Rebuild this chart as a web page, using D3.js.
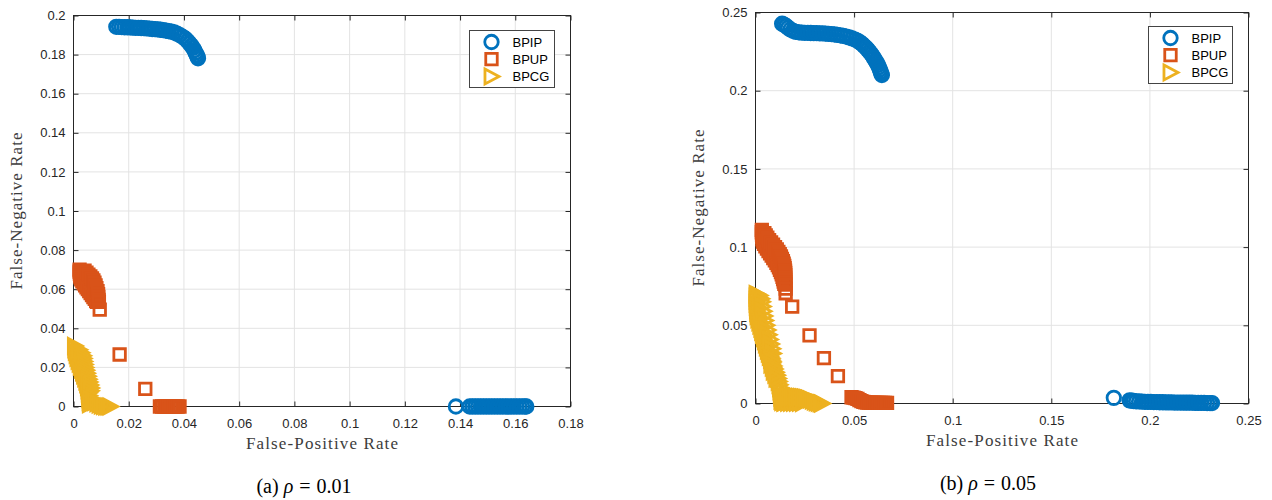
<!DOCTYPE html>
<html>
<head>
<meta charset="utf-8">
<script src="https://cdn.jsdelivr.net/npm/d3@7"></script>
<style>
  body { margin: 0; background: #fff; }
  svg { display: block; }
</style>
</head>
<body>
<svg id="chart" width="1272" height="500"></svg>
<script>
// Series names / colours (MATLAB default order)
const seriesNames = ['BPIP', 'BPUP', 'BPCG'];
const seriesColors = ['#0072BD', '#D95319', '#EDB120'];

// Tick values
const xTicksA = [0, 0.02, 0.04, 0.06, 0.08, 0.1, 0.12, 0.14, 0.16, 0.18];
const yTicksA = [0, 0.02, 0.04, 0.06, 0.08, 0.1, 0.12, 0.14, 0.16, 0.18, 0.2];
const xTicksB = [0, 0.05, 0.1, 0.15, 0.2, 0.25];
const yTicksB = [0, 0.05, 0.1, 0.15, 0.2, 0.25];

// (a) rho = 0.01  -- [false-positive rate, false-negative rate]
const bpipA = [
  [0.0155, 0.1942], [0.0165, 0.1942], [0.0175, 0.1941], [0.0185, 0.1940], [0.0195, 0.1940],
  [0.0205, 0.1939], [0.0215, 0.1938], [0.0225, 0.1937], [0.0235, 0.1937], [0.0245, 0.1936],
  [0.0255, 0.1935], [0.0265, 0.1934], [0.0275, 0.1933], [0.0285, 0.1931], [0.0295, 0.1930],
  [0.0305, 0.1929], [0.0315, 0.1927], [0.0325, 0.1925], [0.0335, 0.1923], [0.0345, 0.1920],
  [0.0355, 0.1917], [0.0365, 0.1913], [0.0375, 0.1907], [0.0385, 0.1900], [0.0395, 0.1891],
  [0.0405, 0.1881], [0.0413, 0.1870], [0.0420, 0.1858], [0.0427, 0.1846], [0.0433, 0.1834],
  [0.0438, 0.1822], [0.0442, 0.1810], [0.0446, 0.1799], [0.0449, 0.1789], [0.0451, 0.1781],
  [0.1385, 0], [0.1435, 0], [0.1445, 0], [0.1455, 0], [0.1465, 0], [0.1475, 0], [0.1485, 0],
  [0.1495, 0], [0.1505, 0], [0.1515, 0], [0.1525, 0], [0.1535, 0], [0.1545, 0], [0.1555, 0],
  [0.1565, 0], [0.1575, 0], [0.1585, 0], [0.1595, 0], [0.1605, 0], [0.1615, 0], [0.1625, 0],
  [0.1635, 0], [0.1640, 0]
];
const bpupA = [
  [0.0022, 0.0700], [0.0022, 0.0690], [0.0023, 0.0680], [0.0024, 0.0670], [0.0025, 0.0660],
  [0.0028, 0.0650], [0.0032, 0.0640], [0.0037, 0.0630], [0.0042, 0.0620], [0.0047, 0.0610],
  [0.0052, 0.0600], [0.0057, 0.0590], [0.0062, 0.0580], [0.0067, 0.0570], [0.0072, 0.0560],
  [0.0077, 0.0550], [0.0082, 0.0540], [0.0085, 0.0535],
  [0.0040, 0.0695], [0.0047, 0.0685], [0.0054, 0.0675], [0.0061, 0.0665], [0.0067, 0.0655],
  [0.0072, 0.0645], [0.0076, 0.0633], [0.0080, 0.0620], [0.0083, 0.0605], [0.0087, 0.0590],
  [0.0089, 0.0575], [0.0090, 0.0560], [0.0091, 0.0545], [0.0092, 0.0535],
  [0.0095, 0.0496], [0.0167, 0.0266], [0.0260, 0.0090],
  [0.0313, 0], [0.0321, 0], [0.0329, 0], [0.0337, 0], [0.0345, 0], [0.0353, 0],
  [0.0361, 0], [0.0369, 0], [0.0377, 0], [0.0384, 0]
];
const bpcgA = [
  [0.0005, 0.0310], [0.0006, 0.0295], [0.0008, 0.0280], [0.0011, 0.0265], [0.0014, 0.0250],
  [0.0018, 0.0235], [0.0022, 0.0220], [0.0026, 0.0205], [0.0030, 0.0190], [0.0034, 0.0175],
  [0.0038, 0.0160], [0.0042, 0.0145], [0.0046, 0.0130], [0.0049, 0.0115], [0.0052, 0.0100],
  [0.0054, 0.0085], [0.0055, 0.0070], [0.0056, 0.0055], [0.0057, 0.0040], [0.0058, 0.0025],
  [0.0059, 0.0012],
  [0.0020, 0.0290], [0.0028, 0.0275], [0.0034, 0.0260], [0.0036, 0.0245], [0.0038, 0.0230],
  [0.0040, 0.0215], [0.0042, 0.0200], [0.0045, 0.0185], [0.0048, 0.0170], [0.0051, 0.0155],
  [0.0054, 0.0140], [0.0057, 0.0125], [0.0060, 0.0110], [0.0063, 0.0095], [0.0062, 0.0080],
  [0.0062, 0.0040], [0.0070, 0.0032], [0.0078, 0.0024], [0.0086, 0.0017], [0.0094, 0.0011],
  [0.0102, 0.0006], [0.0110, 0.0003], [0.0118, 0.0001], [0.0126, 0], [0.0133, 0]
];

// (b) rho = 0.05
const bpipB = [
  [0.0135, 0.2428], [0.0145, 0.2422], [0.0155, 0.2414], [0.0165, 0.2403], [0.0177, 0.2392],
  [0.0190, 0.2383], [0.0205, 0.2376], [0.0220, 0.2373], [0.0235, 0.2371], [0.0250, 0.2370],
  [0.0265, 0.2370], [0.0280, 0.2369], [0.0295, 0.2368], [0.0310, 0.2368], [0.0325, 0.2367],
  [0.0340, 0.2366], [0.0355, 0.2365], [0.0370, 0.2363], [0.0385, 0.2362], [0.0400, 0.2360],
  [0.0415, 0.2357], [0.0430, 0.2354], [0.0445, 0.2350], [0.0460, 0.2346], [0.0475, 0.2341],
  [0.0490, 0.2334], [0.0505, 0.2327], [0.0518, 0.2319], [0.0530, 0.2309], [0.0541, 0.2298],
  [0.0551, 0.2286], [0.0561, 0.2274], [0.0570, 0.2261], [0.0579, 0.2248], [0.0587, 0.2234],
  [0.0595, 0.2220], [0.0602, 0.2206], [0.0609, 0.2192], [0.0615, 0.2178], [0.0621, 0.2164],
  [0.0626, 0.2150], [0.0631, 0.2136], [0.0635, 0.2122], [0.0638, 0.2110], [0.0641, 0.2100],
  [0.1817, 0.0036],
  [0.1897, 0.0020], [0.1907, 0.0018], [0.1917, 0.0016], [0.1930, 0.0014], [0.1945, 0.0013],
  [0.1960, 0.0012], [0.1975, 0.0011], [0.1990, 0.0010], [0.2005, 0.0010], [0.2020, 0.0009],
  [0.2035, 0.0009], [0.2050, 0.0008], [0.2065, 0.0008], [0.2080, 0.0007], [0.2095, 0.0007],
  [0.2110, 0.0007], [0.2125, 0.0006], [0.2140, 0.0006], [0.2155, 0.0006], [0.2170, 0.0005],
  [0.2185, 0.0005], [0.2200, 0.0005], [0.2215, 0.0005], [0.2230, 0.0004], [0.2245, 0.0004],
  [0.2260, 0.0004], [0.2275, 0.0004], [0.2290, 0.0003], [0.2305, 0.0003], [0.2315, 0.0003]
];
const bpupB = [
  [0.0032, 0.1110], [0.0032, 0.1095], [0.0033, 0.1080], [0.0034, 0.1065], [0.0035, 0.1050],
  [0.0038, 0.1035], [0.0043, 0.1020], [0.0050, 0.1005], [0.0058, 0.0990], [0.0066, 0.0975],
  [0.0074, 0.0960], [0.0082, 0.0945], [0.0090, 0.0930], [0.0098, 0.0915], [0.0106, 0.0900],
  [0.0113, 0.0885], [0.0119, 0.0870], [0.0124, 0.0855], [0.0129, 0.0840], [0.0133, 0.0825],
  [0.0137, 0.0810], [0.0140, 0.0795], [0.0143, 0.0780], [0.0146, 0.0765],
  [0.0045, 0.1090], [0.0052, 0.1075], [0.0060, 0.1060], [0.0069, 0.1045], [0.0079, 0.1030],
  [0.0089, 0.1015], [0.0099, 0.1000], [0.0108, 0.0985], [0.0116, 0.0970], [0.0123, 0.0955],
  [0.0129, 0.0940], [0.0134, 0.0925], [0.0139, 0.0910], [0.0143, 0.0895], [0.0146, 0.0880],
  [0.0148, 0.0865], [0.0150, 0.0850], [0.0151, 0.0835], [0.0151, 0.0820], [0.0151, 0.0805],
  [0.0151, 0.0790], [0.0151, 0.0775], [0.0152, 0.0760],
  [0.0153, 0.0735], [0.0153, 0.0705], [0.0186, 0.0620], [0.0274, 0.0435], [0.0347, 0.0290],
  [0.0418, 0.0175],
  [0.0487, 0.0040], [0.0497, 0.0038], [0.0507, 0.0035], [0.0517, 0.0030], [0.0527, 0.0022],
  [0.0537, 0.0015], [0.0547, 0.0010], [0.0557, 0.0008], [0.0567, 0.0006], [0.0577, 0.0005],
  [0.0587, 0.0005], [0.0597, 0.0005], [0.0607, 0.0004], [0.0617, 0.0004], [0.0627, 0.0004],
  [0.0637, 0.0004], [0.0647, 0.0004], [0.0657, 0.0004], [0.0667, 0.0004]
];
const bpcgB = [
  [0.0005, 0.0700], [0.0005, 0.0680], [0.0005, 0.0660], [0.0005, 0.0640], [0.0006, 0.0620],
  [0.0007, 0.0600], [0.0008, 0.0580], [0.0010, 0.0560], [0.0014, 0.0540], [0.0019, 0.0520],
  [0.0024, 0.0500], [0.0029, 0.0480], [0.0033, 0.0460], [0.0037, 0.0440], [0.0042, 0.0420],
  [0.0047, 0.0400], [0.0052, 0.0380], [0.0057, 0.0360], [0.0062, 0.0340], [0.0067, 0.0320],
  [0.0072, 0.0300], [0.0078, 0.0280], [0.0084, 0.0260], [0.0090, 0.0240], [0.0096, 0.0220],
  [0.0102, 0.0200], [0.0108, 0.0180], [0.0113, 0.0160], [0.0117, 0.0140], [0.0121, 0.0120],
  [0.0124, 0.0100], [0.0126, 0.0080], [0.0128, 0.0060], [0.0130, 0.0040], [0.0131, 0.0020],
  [0.0020, 0.0690], [0.0028, 0.0670], [0.0032, 0.0650], [0.0036, 0.0620], [0.0040, 0.0590],
  [0.0044, 0.0560], [0.0048, 0.0530], [0.0054, 0.0500], [0.0060, 0.0470], [0.0066, 0.0440],
  [0.0072, 0.0410], [0.0078, 0.0380], [0.0084, 0.0350], [0.0088, 0.0320],
  [0.0080, 0.0290], [0.0085, 0.0270], [0.0080, 0.0250], [0.0087, 0.0230], [0.0092, 0.0205],
  [0.0100, 0.0185], [0.0106, 0.0160],
  [0.0135, 0.0010], [0.0145, 0.0005], [0.0150, 0.0008], [0.0165, 0.0006], [0.0180, 0.0005],
  [0.0195, 0.0005], [0.0210, 0.0005], [0.0225, 0.0005], [0.0240, 0.0004],
  [0.0140, 0.0040], [0.0150, 0.0042], [0.0160, 0.0043], [0.0170, 0.0044], [0.0180, 0.0044],
  [0.0190, 0.0044], [0.0200, 0.0043], [0.0210, 0.0043], [0.0220, 0.0042], [0.0230, 0.0041],
  [0.0240, 0.0040], [0.0250, 0.0038], [0.0260, 0.0035], [0.0270, 0.0031], [0.0280, 0.0026],
  [0.0290, 0.0020], [0.0300, 0.0014], [0.0310, 0.0009], [0.0320, 0.0005], [0.0330, 0.0002],
  [0.0337, 0]
];

// Right-pointing triangle, like MATLAB's '>' marker
const triangleRight = {
  draw(context, size) {
    const h = Math.sqrt(size) / 2;
    context.moveTo(-h * 0.87, -h);
    context.lineTo(h, 0);
    context.lineTo(-h * 0.87, h);
    context.closePath();
  }
};
const symbols = [
  d3.symbol().type(d3.symbolCircle).size(143)(),
  d3.symbol().type(d3.symbolSquare).size(132)(),
  d3.symbol().type(triangleRight).size(225)()
];

const svg = d3.select('#chart');
const sansFont = "'Liberation Sans', Arial, Helvetica, sans-serif";
const serifFont = "'Liberation Serif', 'Times New Roman', serif";
const axisColor = '#262626';
const labelColor = '#3c3c3c';
const fmt = d3.format('~g');

function drawPanel(p) {
  const x = d3.scaleLinear().domain(p.xDomain).range([p.left, p.right]);
  const y = d3.scaleLinear().domain(p.yDomain).range([p.bottom, p.top]);
  const g = svg.append('g');

  // Grid
  g.append('g').selectAll('line').data(p.xTicks).enter().append('line')
    .attr('x1', d => x(d)).attr('x2', d => x(d))
    .attr('y1', p.top).attr('y2', p.bottom)
    .attr('stroke', '#e3e3e3').attr('stroke-width', 1);
  g.append('g').selectAll('line').data(p.yTicks).enter().append('line')
    .attr('y1', d => y(d)).attr('y2', d => y(d))
    .attr('x1', p.left).attr('x2', p.right)
    .attr('stroke', '#e3e3e3').attr('stroke-width', 1);

  // Axes with inward ticks on all four sides
  const axes = [
    { axis: d3.axisBottom(x).tickFormat(fmt).tickPadding(11.8), at: `translate(0,${p.bottom})` },
    { axis: d3.axisLeft(y).tickFormat(fmt).tickPadding(8), at: `translate(${p.left},0)` },
    { axis: d3.axisTop(x).tickFormat(''), at: `translate(0,${p.top})` },
    { axis: d3.axisRight(y).tickFormat(''), at: `translate(${p.right},0)` }
  ];
  axes.forEach((a, i) => {
    const ticks = i % 2 === 0 ? p.xTicks : p.yTicks;
    const ag = g.append('g').attr('transform', a.at)
      .call(a.axis.tickValues(ticks).tickSizeInner(-5).tickSizeOuter(0));
    ag.select('.domain').remove();
    ag.selectAll('line').attr('stroke', axisColor);
    ag.selectAll('text').attr('fill', axisColor)
      .style('font-family', sansFont).style('font-size', '13px');
  });

  // Box
  g.append('rect')
    .attr('x', p.left).attr('y', p.top)
    .attr('width', p.right - p.left).attr('height', p.bottom - p.top)
    .attr('fill', 'none').attr('stroke', axisColor).attr('stroke-width', 1);

  // Markers: BPIP first, BPCG on top
  p.data.forEach((series, i) => {
    g.append('g').selectAll('path').data(series).enter().append('path')
      .attr('d', symbols[i])
      .attr('transform', d => `translate(${x(d[0])},${y(d[1])})`)
      .attr('fill', 'none')
      .attr('stroke', seriesColors[i])
      .attr('stroke-width', 2.8);
  });

  // Axis labels
  g.append('text')
    .attr('x', (p.left + p.right) / 2).attr('y', p.bottom + 42)
    .attr('text-anchor', 'middle')
    .attr('textLength', 152)
    .style('font-family', serifFont).style('font-size', '17px')
    .attr('fill', labelColor)
    .text('False-Positive Rate');
  g.append('text')
    .attr('transform', `translate(${p.left - 51.5},${(p.top + p.bottom) / 2}) rotate(-90)`)
    .attr('text-anchor', 'middle')
    .attr('textLength', 157)
    .style('font-family', serifFont).style('font-size', '17px')
    .attr('fill', labelColor)
    .text('False-Negative Rate');

  // Legend
  const lg = g.append('g').attr('transform', `translate(${p.legend.x},${p.legend.y})`);
  lg.append('rect')
    .attr('width', p.legend.w).attr('height', p.legend.h)
    .attr('fill', '#fff').attr('stroke', '#444').attr('stroke-width', 1);
  const rowY = [11.5, 28.7, 46];
  seriesNames.forEach((name, i) => {
    lg.append('path')
      .attr('d', symbols[i])
      .attr('transform', `translate(22,${rowY[i]})`)
      .attr('fill', 'none').attr('stroke', seriesColors[i]).attr('stroke-width', 2.8);
    lg.append('text')
      .attr('x', 43).attr('y', rowY[i]).attr('dy', '0.36em')
      .style('font-family', sansFont).style('font-size', '13px')
      .attr('fill', '#000')
      .text(name);
  });

  // Caption
  const cap = svg.append('text')
    .attr('x', p.captionX).attr('y', p.captionY)
    .attr('text-anchor', 'middle')
    .style('font-family', serifFont).style('font-size', '20px')
    .attr('fill', '#000');
  cap.append('tspan').text(p.caption + ' ');
  cap.append('tspan').style('font-style', 'italic').text('ρ');
  cap.append('tspan').attr('dx', 6).text('=');
  cap.append('tspan').attr('dx', 6).text(p.rho);
}

drawPanel({
  left: 73.5, right: 570.5, top: 15.5, bottom: 406.5,
  xDomain: [0, 0.18], yDomain: [0, 0.2],
  xTicks: xTicksA, yTicks: yTicksA,
  data: [bpipA, bpupA, bpcgA],
  legend: { x: 469.5, y: 30.5, w: 85, h: 57 },
  caption: '(a)', rho: '0.01', captionX: 304, captionY: 493
});

drawPanel({
  left: 755.5, right: 1248.5, top: 12.5, bottom: 403.5,
  xDomain: [0, 0.25], yDomain: [0, 0.25],
  xTicks: xTicksB, yTicks: yTicksB,
  data: [bpipB, bpupB, bpcgB],
  legend: { x: 1148.5, y: 26.5, w: 84, h: 57 },
  caption: '(b)', rho: '0.05', captionX: 988, captionY: 490
});
</script>
</body>
</html>
